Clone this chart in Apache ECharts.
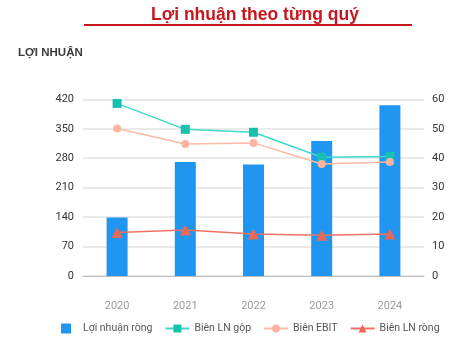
<!DOCTYPE html>
<html><head><meta charset="utf-8">
<script src="https://cdn.jsdelivr.net/npm/echarts@6/dist/echarts.min.js"></script>
<style>html,body{margin:0;padding:0;background:#fff}#c{width:468px;height:361px}</style>
</head><body><div id="c"></div>
<script>
const years = ['2020','2021','2022','2023','2024'];
const loiNhuanRong = [139, 271, 265, 321, 406];
const bienLNGop = [58.6, 49.8, 48.8, 40.3, 40.6];
const bienEBIT = [50.1, 44.8, 45.2, 38.0, 38.7];
const bienLNRong = [14.8, 15.6, 14.3, 13.8, 14.3];

const chart = echarts.init(document.getElementById('c'));
chart.setOption({
  animation: false,
  title: {
    text: 'Lợi nhuận theo từng quý', left: 250, top: 1, textAlign: 'center',
    textStyle: {color: '#C8161D', fontSize: 17.5, fontWeight: 'bold', fontFamily: 'Liberation Sans'}
  },
  graphic: [
    {type: 'line', shape: {x1: 84, y1: 25, x2: 412, y2: 25}, style: {stroke: '#C8161D', lineWidth: 2}},
    {type: 'text', left: 18, top: 47, style: {text: 'LỢI NHUẬN', fill: '#3a3a3a', font: 'bold 11.5px Liberation Sans'}}
  ],
  grid: {left: 83, right: 44, top: 99.3, bottom: 85},
  xAxis: {
    type: 'category', data: years,
    axisLine: {lineStyle: {color: '#bdbdbd', width: 1}},
    axisTick: {show: false},
    axisLabel: {color: '#999', fontSize: 11, margin: 25, fontFamily: 'Roboto'}
  },
  yAxis: [
    {type: 'value', min: 0, max: 420, interval: 70,
     axisLabel: {color: '#333', fontSize: 11, margin: 9, fontFamily: 'Roboto'},
     splitLine: {lineStyle: {color: '#e3e3e3', width: 1.5}},
     axisLine: {show: false}, axisTick: {show: false}},
    {type: 'value', min: 0, max: 60, interval: 10,
     axisLabel: {color: '#333', fontSize: 11, margin: 8, fontFamily: 'Roboto'},
     splitLine: {show: false}, axisLine: {show: false}, axisTick: {show: false}}
  ],
  legend: {
    bottom: 22, left: 56, itemGap: 12, itemWidth: 24, itemHeight: 10,
    textStyle: {color: '#555', fontSize: 10.5, fontFamily: 'Roboto'},
    data: [
      {name: 'Lợi nhuận ròng', icon: 'path://M0,0h10v10h-10z'},
      'Biên LN gộp', 'Biên EBIT', 'Biên LN ròng'
    ]
  },
  series: [
    {name: 'Lợi nhuận ròng', type: 'bar', data: loiNhuanRong, barWidth: 21,
     itemStyle: {color: '#2196F0'}},
    {name: 'Biên LN gộp', type: 'line', yAxisIndex: 1, data: bienLNGop,
     symbol: 'rect', symbolSize: 9, lineStyle: {color: '#3DD9C9', width: 1.5},
     itemStyle: {color: '#17C1AE'}},
    {name: 'Biên EBIT', type: 'line', yAxisIndex: 1, data: bienEBIT,
     symbol: 'circle', symbolSize: 8, lineStyle: {color: '#FFB9A4', width: 1.5},
     itemStyle: {color: '#FDB4A0'}},
    {name: 'Biên LN ròng', type: 'line', yAxisIndex: 1, data: bienLNRong,
     symbol: 'triangle', symbolSize: 11, lineStyle: {color: '#EE7264', width: 1.5},
     itemStyle: {color: '#E8695A'}}
  ]
});
</script></body></html>
